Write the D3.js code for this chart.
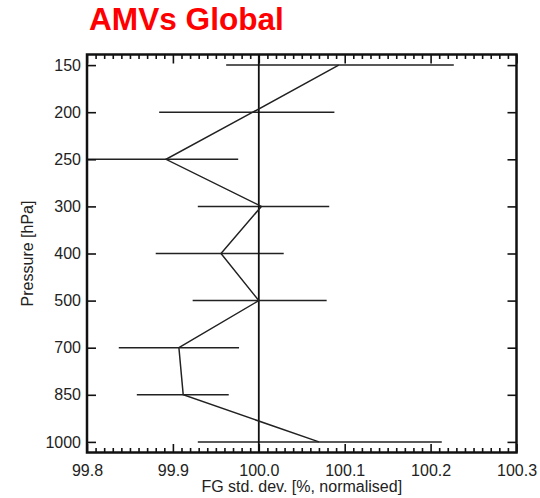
<!DOCTYPE html>
<html>
<head>
<meta charset="utf-8">
<script src="https://cdn.jsdelivr.net/npm/d3@7/dist/d3.min.js"></script>
<style>
  html, body { margin: 0; padding: 0; background: #fff; }
  svg { display: block; }
  text { font-family: "Liberation Sans", Arial, Helvetica, sans-serif; }
</style>
</head>
<body>
<svg id="chart" width="540" height="498"></svg>
<script>
// ---- data ----
const levels = ["150", "200", "250", "300", "400", "500", "700", "850", "1000"];
const centerValues = [100.093, 99.993, 99.892, 100.003, 99.956, 100.000, 99.907, 99.912, 100.070];
const lowerValues  = [99.962, 99.884, 99.780, 99.929, 99.880, 99.923, 99.837, 99.858, 99.929];
const upperValues  = [100.227, 100.088, 99.976, 100.082, 100.029, 100.079, 99.977, 99.965, 100.213];
const xTickValues = [99.8, 99.9, 100.0, 100.1, 100.2, 100.3];
const referenceValue = 100.0;
const titleText = "AMVs Global";
const xLabel = "FG std. dev. [%, normalised]";
const yLabel = "Pressure [hPa]";

// ---- layout ----
const pLeft = 87, pRight = 516.5, pTop = 54.5, pBottom = 452.5;
const svg = d3.select("#chart");

const x = d3.scaleLinear().domain([99.8, 100.3]).range([pLeft, pRight]);
const y = d3.scalePoint().domain(levels).range([pTop, pBottom]).padding(0.225);

const rows = levels.map((l, i) => ({ level: l, c: centerValues[i], lo: lowerValues[i], hi: upperValues[i] }));

svg.append("defs").append("clipPath").attr("id", "plotclip")
  .append("rect").attr("x", pLeft).attr("y", pTop).attr("width", pRight - pLeft).attr("height", pBottom - pTop);

const plot = svg.append("g").attr("clip-path", "url(#plotclip)");

// error bars
plot.selectAll("line.err").data(rows).enter().append("line")
  .attr("class", "err")
  .attr("x1", d => x(d.lo)).attr("x2", d => x(d.hi))
  .attr("y1", d => y(d.level)).attr("y2", d => y(d.level))
  .attr("stroke", "#222").attr("stroke-width", 1.5);

// reference vertical line
plot.append("line")
  .attr("x1", x(referenceValue)).attr("x2", x(referenceValue))
  .attr("y1", pTop).attr("y2", pBottom)
  .attr("stroke", "#111").attr("stroke-width", 1.8);

// profile line
plot.append("path").datum(rows)
  .attr("fill", "none").attr("stroke", "#222").attr("stroke-width", 1.5)
  .attr("stroke-linejoin", "miter")
  .attr("d", d3.line().x(d => x(d.c)).y(d => y(d.level)));

// ---- axes ----
const fmt = d3.format(".1f");
const minorX = d3.range(0, 51).filter(i => i % 10 !== 0).map(i => 99.8 + i * 0.01);

function styleAxis(g) {
  g.select(".domain").remove();
  g.selectAll(".tick line").attr("stroke", "#111").attr("stroke-width", 1.6);
  g.selectAll("text").attr("fill", "#222").attr("font-size", 16);
}

// bottom major
svg.append("g").attr("transform", `translate(0,${pBottom})`)
  .call(d3.axisBottom(x).tickValues(xTickValues).tickFormat(fmt).tickSize(-8.5).tickPadding(12))
  .call(styleAxis);
// bottom minor
svg.append("g").attr("transform", `translate(0,${pBottom})`)
  .call(d3.axisBottom(x).tickValues(minorX).tickFormat(() => "").tickSize(-4.5))
  .call(styleAxis);
// top major
svg.append("g").attr("transform", `translate(0,${pTop})`)
  .call(d3.axisTop(x).tickValues(xTickValues).tickFormat(() => "").tickSize(-9))
  .call(styleAxis);
// top minor
svg.append("g").attr("transform", `translate(0,${pTop})`)
  .call(d3.axisTop(x).tickValues(minorX).tickFormat(() => "").tickSize(-4.5))
  .call(styleAxis);
// left
svg.append("g").attr("transform", `translate(${pLeft},0)`)
  .call(d3.axisLeft(y).tickSize(-9).tickPadding(6))
  .call(styleAxis);
// right
svg.append("g").attr("transform", `translate(${pRight},0)`)
  .call(d3.axisRight(y).tickSize(-9).tickFormat(() => ""))
  .call(styleAxis);

// frame
svg.append("rect")
  .attr("x", pLeft).attr("y", pTop).attr("width", pRight - pLeft).attr("height", pBottom - pTop)
  .attr("fill", "none").attr("stroke", "#111").attr("stroke-width", 2.5);

// ---- labels ----
svg.append("text")
  .attr("x", 89).attr("y", 29.5)
  .attr("fill", "#ff0000").attr("font-weight", "bold").attr("font-size", 31.6)
  .text(titleText);

svg.append("text")
  .attr("x", (pLeft + pRight) / 2).attr("y", 492)
  .attr("text-anchor", "middle").attr("fill", "#222").attr("font-size", 16)
  .text(xLabel);

svg.append("text")
  .attr("transform", `translate(33,${(pTop + pBottom) / 2}) rotate(-90)`)
  .attr("text-anchor", "middle").attr("fill", "#222").attr("font-size", 16)
  .text(yLabel);
</script>
</body>
</html>
